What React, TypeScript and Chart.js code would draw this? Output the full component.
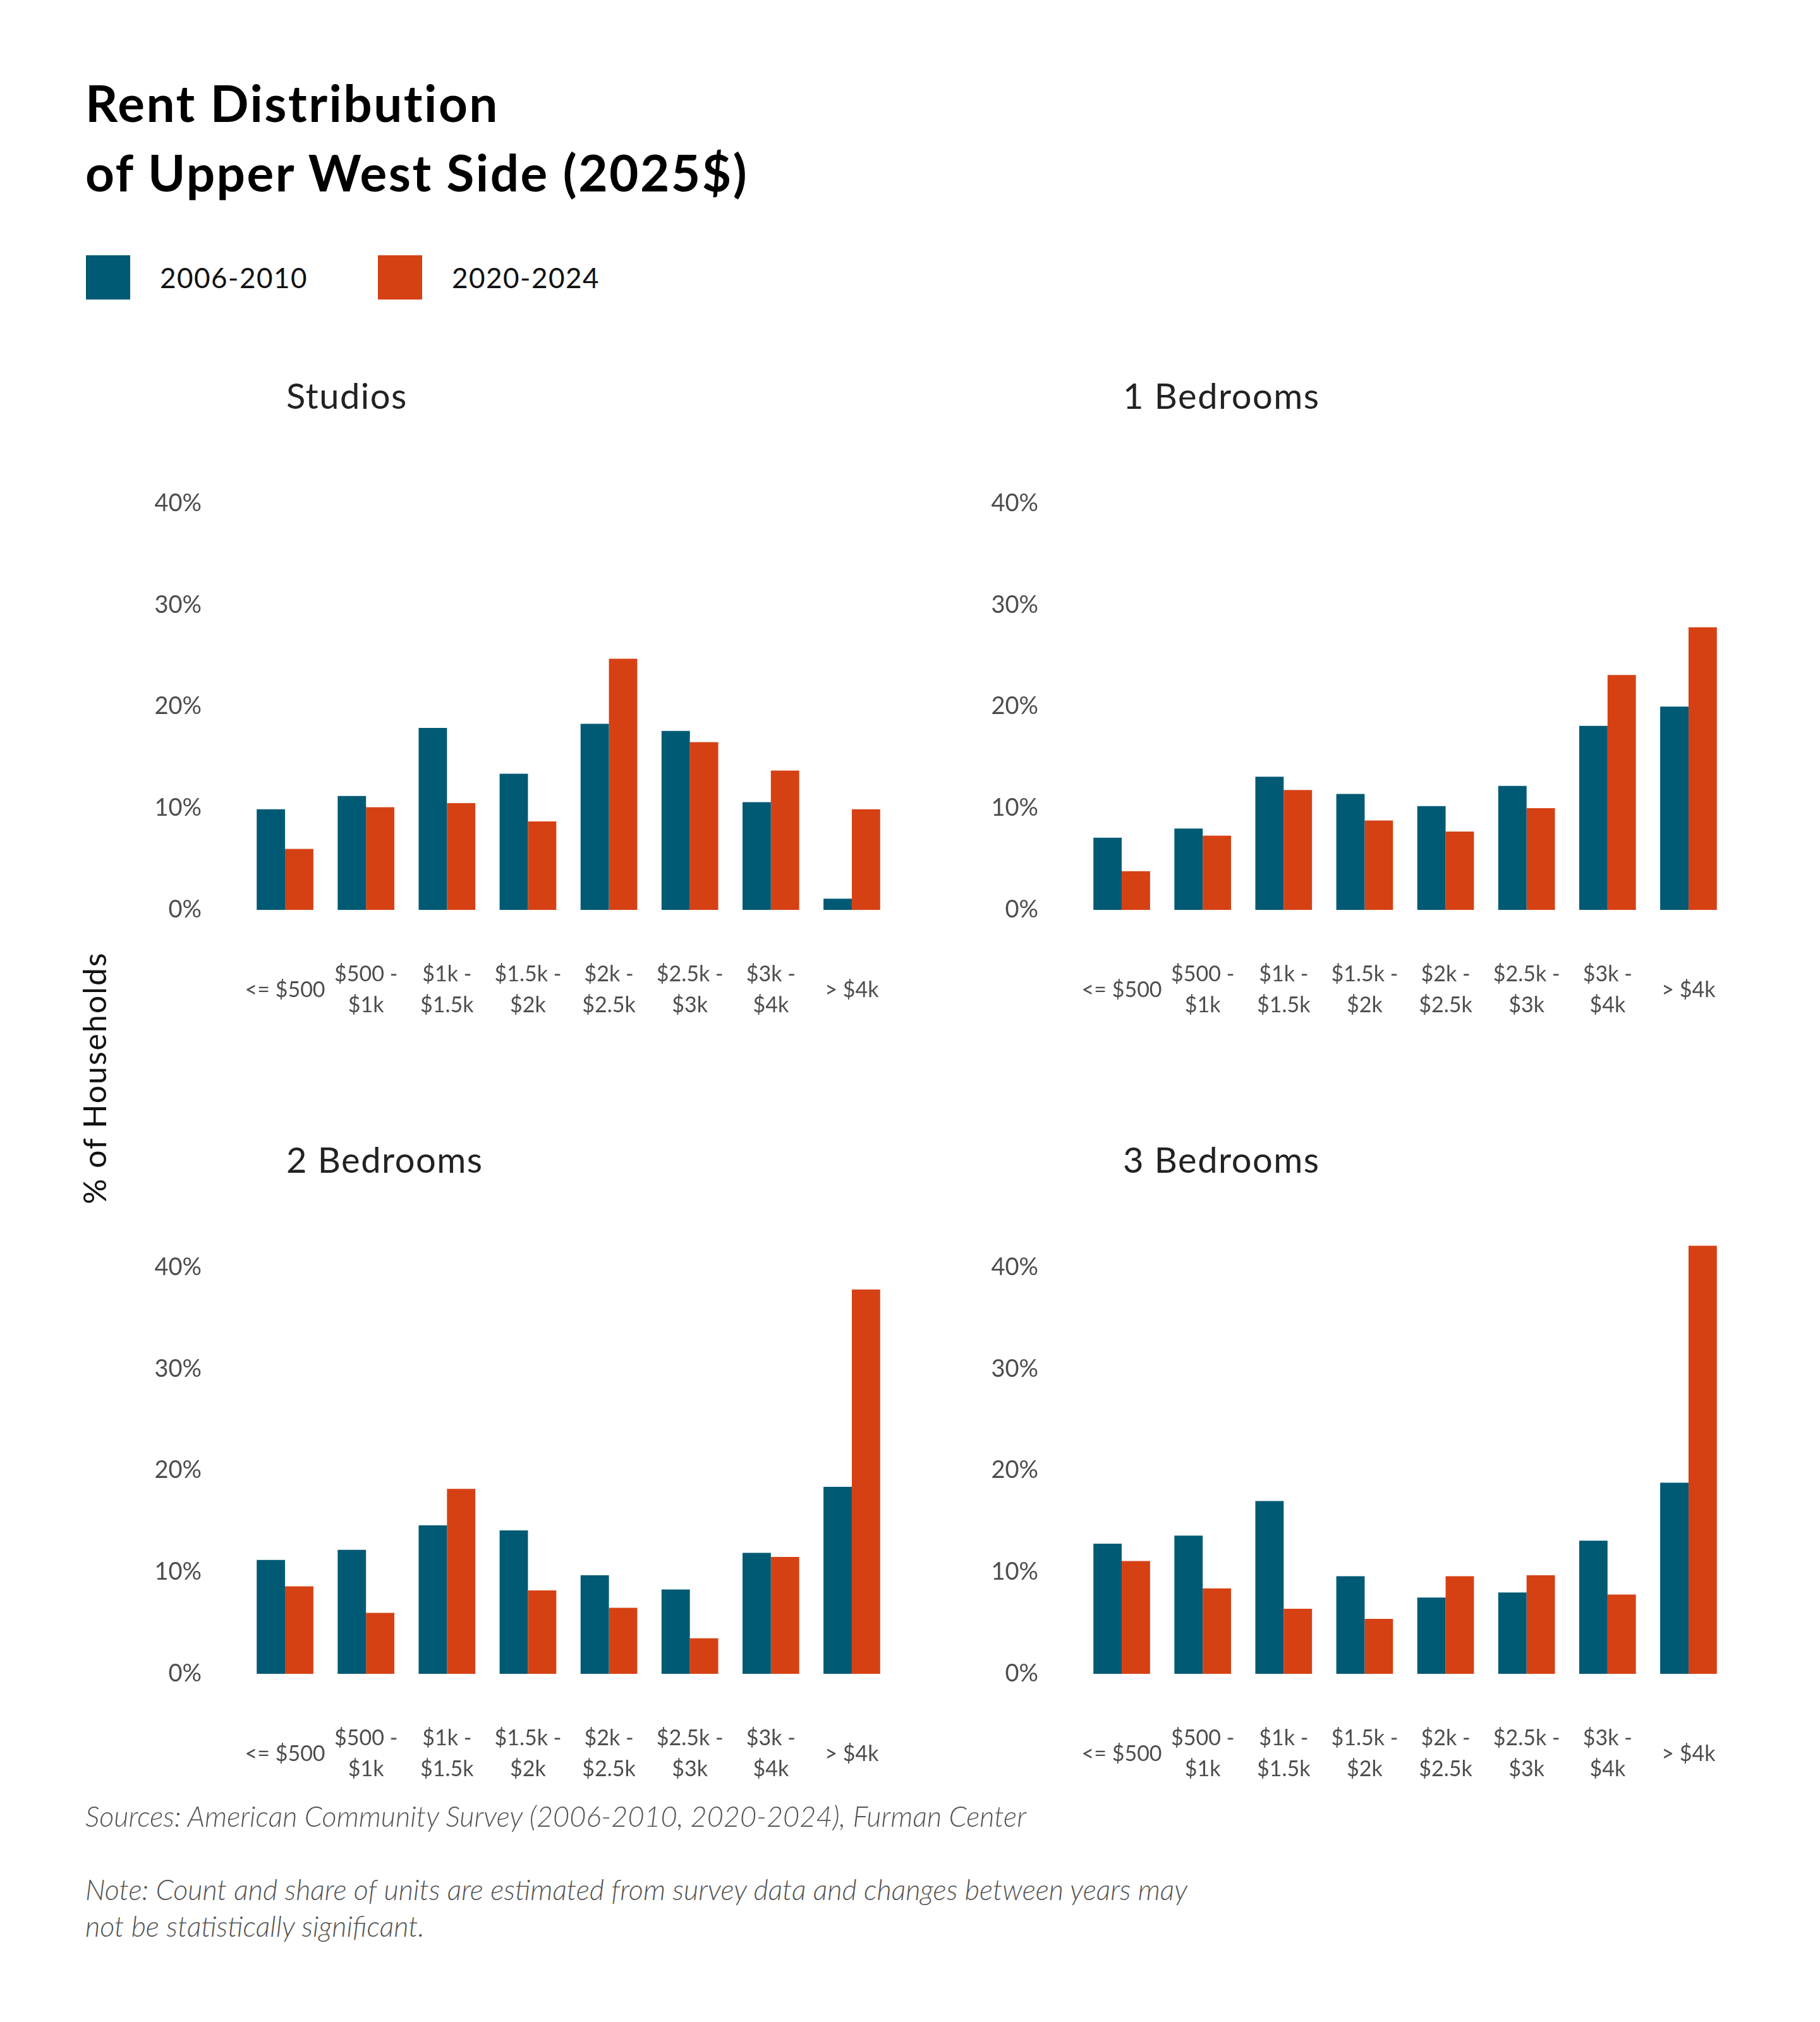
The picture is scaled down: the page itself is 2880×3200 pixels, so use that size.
import { useEffect, useRef } from 'react'
import Chart from 'chart.js/auto'

const rentBins = [
  '<= $500',
  ['$500 -', '$1k'],
  ['$1k -', '$1.5k'],
  ['$1.5k -', '$2k'],
  ['$2k -', '$2.5k'],
  ['$2.5k -', '$3k'],
  ['$3k -', '$4k'],
  '> $4k',
]

const periods = ['2006-2010', '2020-2024']
const yTicks = [0, 10, 20, 30, 40]

const studios2006 = [9.9, 11.2, 17.9, 13.4, 18.3, 17.6, 10.6, 1.1]
const studios2020 = [6.0, 10.1, 10.5, 8.7, 24.7, 16.5, 13.7, 9.9]

const oneBed2006 = [7.1, 8.0, 13.1, 11.4, 10.2, 12.2, 18.1, 20.0]
const oneBed2020 = [3.8, 7.3, 11.8, 8.8, 7.7, 10.0, 23.1, 27.8]

const twoBed2006 = [11.2, 12.2, 14.6, 14.1, 9.7, 8.3, 11.9, 18.4]
const twoBed2020 = [8.6, 6.0, 18.2, 8.2, 6.5, 3.5, 11.5, 37.8]

const threeBed2006 = [12.8, 13.6, 17.0, 9.6, 7.5, 8.0, 13.1, 18.8]
const threeBed2020 = [11.1, 8.4, 6.4, 5.4, 9.6, 9.7, 7.8, 42.1]

const BLUE = '#015a74'
const ORANGE = '#d64114'
const FONT = 'Lato, "Open Sans", sans-serif'

interface PanelProps {
  title: string
  early: number[]
  late: number[]
  left: number
  top: number
}

function Panel({ title, early, late, left, top }: PanelProps) {
  const canvasRef = useRef<HTMLCanvasElement>(null)
  const chartRef = useRef<Chart | null>(null)

  useEffect(() => {
    if (!canvasRef.current) return
    if (chartRef.current) chartRef.current.destroy()

    chartRef.current = new Chart(canvasRef.current, {
      type: 'bar',
      data: {
        labels: rentBins,
        datasets: [
          { label: periods[0], data: early, backgroundColor: BLUE },
          { label: periods[1], data: late, backgroundColor: ORANGE },
        ],
      },
      options: {
        responsive: false,
        animation: false,
        devicePixelRatio: 1,
        layout: { padding: { top: 42, right: 28, left: 0, bottom: 0 } },
        plugins: { legend: { display: false }, tooltip: { enabled: false } },
        datasets: { bar: { barPercentage: 1, categoryPercentage: 0.7 } },
        scales: {
          x: {
            grid: { display: false },
            border: { display: false },
            ticks: {
              color: '#4d4d4d',
              font: { family: FONT, size: 34, lineHeight: 1.45 },
              padding: 94,
              maxRotation: 0,
              autoSkip: false,
              crossAlign: 'center',
            },
            afterFit: (s: any) => {
              s.height = 250
              s.paddingLeft = 0
              s.paddingRight = 0
            },
          },
          y: {
            min: 0,
            max: 44,
            grid: { display: false },
            border: { display: false },
            ticks: {
              stepSize: 10,
              includeBounds: false,
              color: '#4d4d4d',
              font: { family: FONT, size: 38 },
              padding: 60,
              callback: (v: any) => (yTicks.includes(Number(v)) ? v + '%' : ''),
            },
            afterFit: (s: any) => {
              s.width = 187
              s.paddingTop = 0
              s.paddingBottom = 0
            },
          },
        },
      },
    })

    return () => {
      if (chartRef.current) {
        chartRef.current.destroy()
        chartRef.current = null
      }
    }
  }, [early, late])

  return (
    <>
      <div
        style={{
          position: 'absolute',
          left: left + 253,
          top: top - 99,
          font: `400 56px ${FONT}`,
          letterSpacing: '1.5px',
          lineHeight: '70px',
          color: '#222',
          whiteSpace: 'nowrap',
        }}
      >
        {title}
      </div>
      <canvas
        ref={canvasRef}
        width={1240}
        height={1000}
        style={{ position: 'absolute', left, top, width: 1240, height: 1000 }}
      />
    </>
  )
}

export default function App() {
  return (
    <div
      style={{
        position: 'absolute',
        left: 0,
        top: 0,
        width: 2880,
        height: 3200,
        background: '#fff',
        fontFamily: FONT,
        overflow: 'hidden',
      }}
    >
      <div
        style={{
          position: 'absolute',
          left: 135,
          top: 107,
          font: `700 80px ${FONT}`,
          letterSpacing: '2.5px',
          lineHeight: '110px',
          color: '#000',
          whiteSpace: 'nowrap',
        }}
      >
        Rent Distribution
        <br />
        of Upper West Side (2025$)
      </div>

      {periods.map((p, i) => (
        <div key={p}>
          <div
            style={{
              position: 'absolute',
              left: 136 + i * 462,
              top: 404,
              width: 70,
              height: 70,
              background: i === 0 ? BLUE : ORANGE,
            }}
          />
          <div
            style={{
              position: 'absolute',
              left: 253 + i * 462,
              top: 404,
              font: `400 44px ${FONT}`,
              letterSpacing: '1.5px',
              lineHeight: '70px',
              color: '#111',
            }}
          >
            {p}
          </div>
        </div>
      ))}

      <Panel title="Studios" early={studios2006} late={studios2020} left={200} top={690} />
      <Panel title="1 Bedrooms" early={oneBed2006} late={oneBed2020} left={1524} top={690} />
      <Panel title="2 Bedrooms" early={twoBed2006} late={twoBed2020} left={200} top={1899} />
      <Panel title="3 Bedrooms" early={threeBed2006} late={threeBed2020} left={1524} top={1899} />

      <div
        style={{
          position: 'absolute',
          left: 149,
          top: 1706,
          transform: 'translate(-50%, -50%) rotate(-90deg)',
          font: `400 50px ${FONT}`,
          letterSpacing: '2px',
          color: '#111',
          whiteSpace: 'nowrap',
        }}
      >
        % of Households
      </div>

      <div
        style={{
          position: 'absolute',
          left: 135,
          top: 2845,
          font: `italic 300 45px ${FONT}`,
          lineHeight: '58px',
          color: '#555',
          whiteSpace: 'nowrap',
        }}
      >
        Sources: American Community Survey (2006-2010, 2020-2024), Furman Center
      </div>
      <div
        style={{
          position: 'absolute',
          left: 135,
          top: 2961,
          font: `italic 300 45px ${FONT}`,
          lineHeight: '58px',
          color: '#555',
          whiteSpace: 'nowrap',
        }}
      >
        Note: Count and share of units are estimated from survey data and changes between years may
        <br />
        not be statistically significant.
      </div>
    </div>
  )
}
